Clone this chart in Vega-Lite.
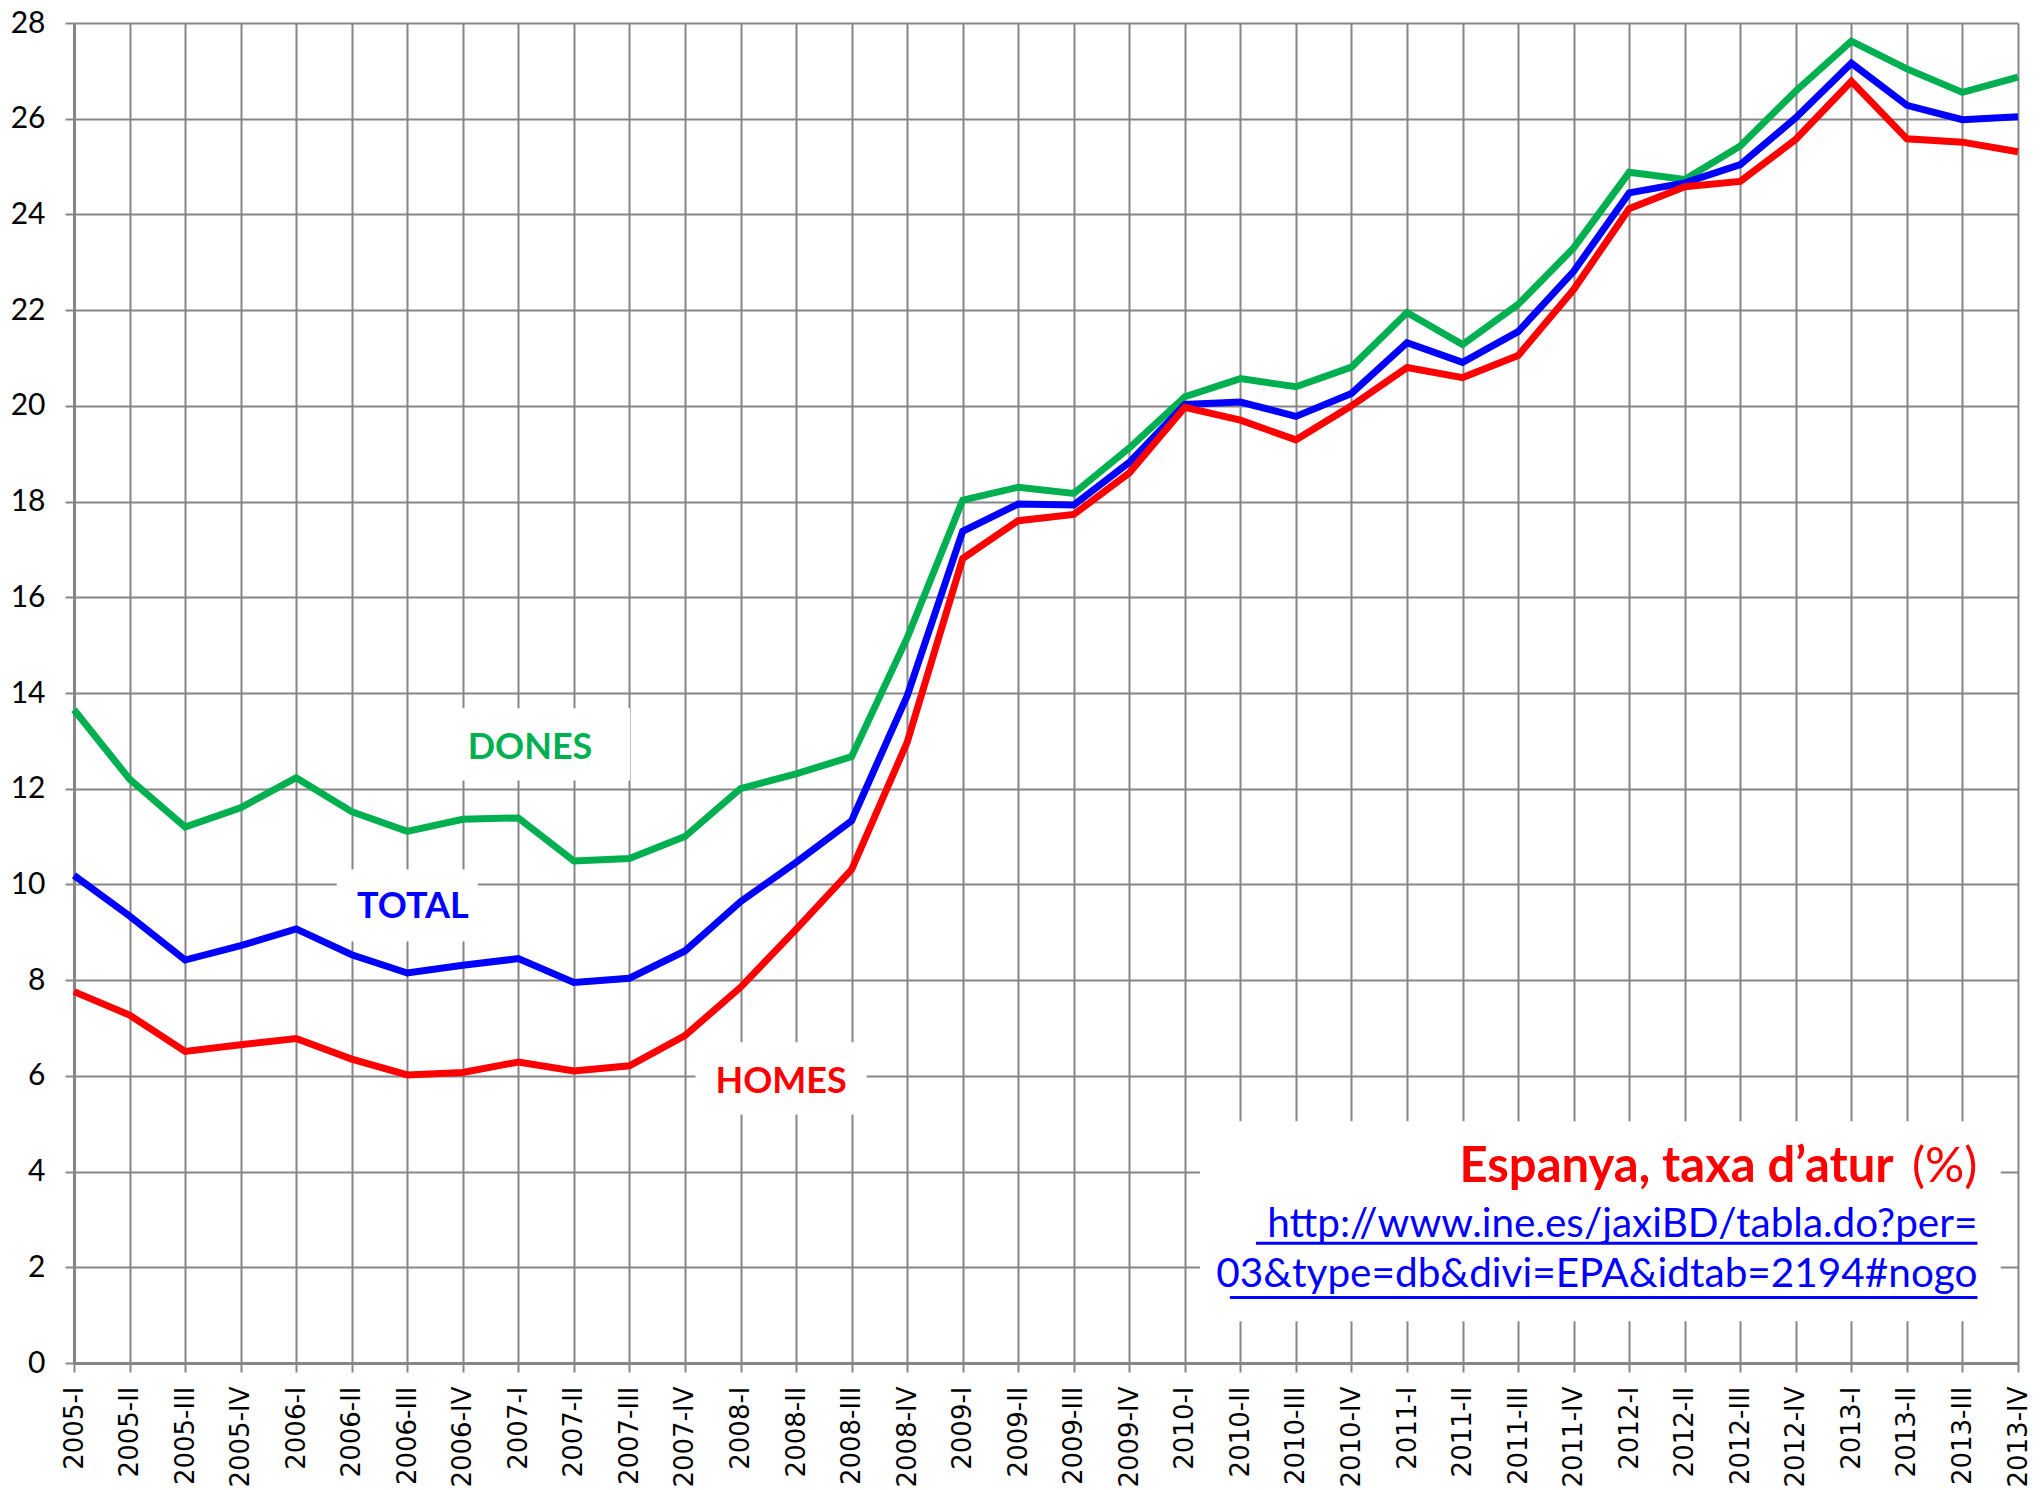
{
  "$schema": "https://vega.github.io/schema/vega-lite/v6.json",
  "width": 1944,
  "height": 1340,
  "autosize": {"type": "none"},
  "padding": {"left": 74, "top": 23, "right": 26, "bottom": 127},
  "background": "white",
  "config": {"view": {"stroke": null}},
  "datasets": {
    "series": [
      {"q":"2005-I","i":0,"s":"DONES","v":13.65},{"q":"2005-II","i":1,"s":"DONES","v":12.2},{"q":"2005-III","i":2,"s":"DONES","v":11.2},{"q":"2005-IV","i":3,"s":"DONES","v":11.6},
      {"q":"2006-I","i":4,"s":"DONES","v":12.23},{"q":"2006-II","i":5,"s":"DONES","v":11.52},{"q":"2006-III","i":6,"s":"DONES","v":11.11},{"q":"2006-IV","i":7,"s":"DONES","v":11.36},
      {"q":"2007-I","i":8,"s":"DONES","v":11.39},{"q":"2007-II","i":9,"s":"DONES","v":10.49},{"q":"2007-III","i":10,"s":"DONES","v":10.54},{"q":"2007-IV","i":11,"s":"DONES","v":11.0},
      {"q":"2008-I","i":12,"s":"DONES","v":12.0},{"q":"2008-II","i":13,"s":"DONES","v":12.31},{"q":"2008-III","i":14,"s":"DONES","v":12.67},{"q":"2008-IV","i":15,"s":"DONES","v":15.15},
      {"q":"2009-I","i":16,"s":"DONES","v":18.03},{"q":"2009-II","i":17,"s":"DONES","v":18.3},{"q":"2009-III","i":18,"s":"DONES","v":18.17},{"q":"2009-IV","i":19,"s":"DONES","v":19.12},
      {"q":"2010-I","i":20,"s":"DONES","v":20.19},{"q":"2010-II","i":21,"s":"DONES","v":20.57},{"q":"2010-III","i":22,"s":"DONES","v":20.4},{"q":"2010-IV","i":23,"s":"DONES","v":20.81},
      {"q":"2011-I","i":24,"s":"DONES","v":21.95},{"q":"2011-II","i":25,"s":"DONES","v":21.28},{"q":"2011-III","i":26,"s":"DONES","v":22.12},{"q":"2011-IV","i":27,"s":"DONES","v":23.3},
      {"q":"2012-I","i":28,"s":"DONES","v":24.88},{"q":"2012-II","i":29,"s":"DONES","v":24.73},{"q":"2012-III","i":30,"s":"DONES","v":25.43},{"q":"2012-IV","i":31,"s":"DONES","v":26.58},
      {"q":"2013-I","i":32,"s":"DONES","v":27.62},{"q":"2013-II","i":33,"s":"DONES","v":27.04},{"q":"2013-III","i":34,"s":"DONES","v":26.55},{"q":"2013-IV","i":35,"s":"DONES","v":26.87},

      {"q":"2005-I","i":0,"s":"TOTAL","v":10.19},{"q":"2005-II","i":1,"s":"TOTAL","v":9.34},{"q":"2005-III","i":2,"s":"TOTAL","v":8.42},{"q":"2005-IV","i":3,"s":"TOTAL","v":8.72},
      {"q":"2006-I","i":4,"s":"TOTAL","v":9.07},{"q":"2006-II","i":5,"s":"TOTAL","v":8.53},{"q":"2006-III","i":6,"s":"TOTAL","v":8.15},{"q":"2006-IV","i":7,"s":"TOTAL","v":8.31},
      {"q":"2007-I","i":8,"s":"TOTAL","v":8.45},{"q":"2007-II","i":9,"s":"TOTAL","v":7.95},{"q":"2007-III","i":10,"s":"TOTAL","v":8.04},{"q":"2007-IV","i":11,"s":"TOTAL","v":8.61},
      {"q":"2008-I","i":12,"s":"TOTAL","v":9.64},{"q":"2008-II","i":13,"s":"TOTAL","v":10.46},{"q":"2008-III","i":14,"s":"TOTAL","v":11.33},{"q":"2008-IV","i":15,"s":"TOTAL","v":13.94},
      {"q":"2009-I","i":16,"s":"TOTAL","v":17.38},{"q":"2009-II","i":17,"s":"TOTAL","v":17.95},{"q":"2009-III","i":18,"s":"TOTAL","v":17.93},{"q":"2009-IV","i":19,"s":"TOTAL","v":18.82},
      {"q":"2010-I","i":20,"s":"TOTAL","v":20.03},{"q":"2010-II","i":21,"s":"TOTAL","v":20.08},{"q":"2010-III","i":22,"s":"TOTAL","v":19.78},{"q":"2010-IV","i":23,"s":"TOTAL","v":20.26},
      {"q":"2011-I","i":24,"s":"TOTAL","v":21.32},{"q":"2011-II","i":25,"s":"TOTAL","v":20.91},{"q":"2011-III","i":26,"s":"TOTAL","v":21.55},{"q":"2011-IV","i":27,"s":"TOTAL","v":22.81},
      {"q":"2012-I","i":28,"s":"TOTAL","v":24.45},{"q":"2012-II","i":29,"s":"TOTAL","v":24.66},{"q":"2012-III","i":30,"s":"TOTAL","v":25.04},{"q":"2012-IV","i":31,"s":"TOTAL","v":26.02},
      {"q":"2013-I","i":32,"s":"TOTAL","v":27.16},{"q":"2013-II","i":33,"s":"TOTAL","v":26.28},{"q":"2013-III","i":34,"s":"TOTAL","v":25.98},{"q":"2013-IV","i":35,"s":"TOTAL","v":26.04},

      {"q":"2005-I","i":0,"s":"HOMES","v":7.76},{"q":"2005-II","i":1,"s":"HOMES","v":7.27},{"q":"2005-III","i":2,"s":"HOMES","v":6.51},{"q":"2005-IV","i":3,"s":"HOMES","v":6.65},
      {"q":"2006-I","i":4,"s":"HOMES","v":6.78},{"q":"2006-II","i":5,"s":"HOMES","v":6.35},{"q":"2006-III","i":6,"s":"HOMES","v":6.02},{"q":"2006-IV","i":7,"s":"HOMES","v":6.07},
      {"q":"2007-I","i":8,"s":"HOMES","v":6.29},{"q":"2007-II","i":9,"s":"HOMES","v":6.1},{"q":"2007-III","i":10,"s":"HOMES","v":6.21},{"q":"2007-IV","i":11,"s":"HOMES","v":6.84},
      {"q":"2008-I","i":12,"s":"HOMES","v":7.85},{"q":"2008-II","i":13,"s":"HOMES","v":9.06},{"q":"2008-III","i":14,"s":"HOMES","v":10.31},{"q":"2008-IV","i":15,"s":"HOMES","v":12.97},
      {"q":"2009-I","i":16,"s":"HOMES","v":16.81},{"q":"2009-II","i":17,"s":"HOMES","v":17.6},{"q":"2009-III","i":18,"s":"HOMES","v":17.73},{"q":"2009-IV","i":19,"s":"HOMES","v":18.6},
      {"q":"2010-I","i":20,"s":"HOMES","v":19.97},{"q":"2010-II","i":21,"s":"HOMES","v":19.7},{"q":"2010-III","i":22,"s":"HOMES","v":19.29},{"q":"2010-IV","i":23,"s":"HOMES","v":20.0},
      {"q":"2011-I","i":24,"s":"HOMES","v":20.8},{"q":"2011-II","i":25,"s":"HOMES","v":20.59},{"q":"2011-III","i":26,"s":"HOMES","v":21.05},{"q":"2011-IV","i":27,"s":"HOMES","v":22.43},
      {"q":"2012-I","i":28,"s":"HOMES","v":24.12},{"q":"2012-II","i":29,"s":"HOMES","v":24.58},{"q":"2012-III","i":30,"s":"HOMES","v":24.69},{"q":"2012-IV","i":31,"s":"HOMES","v":25.57},
      {"q":"2013-I","i":32,"s":"HOMES","v":26.78},{"q":"2013-II","i":33,"s":"HOMES","v":25.58},{"q":"2013-III","i":34,"s":"HOMES","v":25.51},{"q":"2013-IV","i":35,"s":"HOMES","v":25.31}
    ],
    "boxes": [
      {"i":6.6,"i2":10.01,"v":13.68,"v2":12.17},
      {"i":4.73,"i2":7.27,"v":10.31,"v2":8.81},
      {"i":11.19,"i2":14.27,"v":6.7,"v2":5.19},
      {"i":20.27,"i2":34.69,"v":5.05,"v2":0.87}
    ],
    "labels": [
      {"i":8.21,"v":12.63,"s":"DONES","t":"DONES"},
      {"i":6.1,"v":9.29,"s":"TOTAL","t":"TOTAL"},
      {"i":12.73,"v":5.65,"s":"HOMES","t":"HOMES"}
    ],
    "titleBold": [{"i":32.76,"v":3.79,"t":"Espanya, taxa d’atur"}],
    "titleUnit": [{"i":34.27,"v":3.79,"t":"(%)"}],
    "url": [
      {"i":34.27,"v":2.64,"t":"http://www.ine.es/jaxiBD/tabla.do?per="},
      {"i":34.27,"v":1.58,"t":"03&type=db&divi=EPA&idtab=2194#nogo"}
    ],
    "underline": [
      {"i":21.28,"i2":34.27,"v":2.5},
      {"i":20.81,"i2":34.27,"v":1.37}
    ]
  },
  "encoding": {
    "x": {
      "field": "i", "type": "quantitative",
      "scale": {"domain": [0, 35], "nice": false, "zero": false},
      "axis": {
        "title": null,
        "values": [0,1,2,3,4,5,6,7,8,9,10,11,12,13,14,15,16,17,18,19,20,21,22,23,24,25,26,27,28,29,30,31,32,33,34,35],
        "labelExpr": "(2005+floor(datum.value/4)) + '-' + ['I','II','III','IV'][datum.value%4]",
        "labelAngle": 270, "labelAlign": "right", "labelBaseline": "middle",
        "labelFont": "DejaVu Sans", "labelFontSize": 26, "labelColor": "#000000",
        "labelPadding": 14, "labelOverlap": false, "labelFlush": false, "labelBound": false,
        "tickSize": 9, "tickColor": "#868686", "tickWidth": 2,
        "domainColor": "#868686", "domainWidth": 3,
        "grid": true, "gridColor": "#868686", "gridWidth": 2, "gridOpacity": 1
      }
    },
    "y": {
      "field": "v", "type": "quantitative",
      "scale": {"domain": [0, 28], "nice": false, "zero": true},
      "axis": {
        "title": null,
        "values": [0,2,4,6,8,10,12,14,16,18,20,22,24,26,28],
        "labelFont": "Lato", "labelFontSize": 30, "labelColor": "#000000",
        "labelPadding": 20, "labelFlush": false, "labelBound": false,
        "tickSize": 9, "tickColor": "#868686", "tickWidth": 2,
        "domainColor": "#868686", "domainWidth": 3,
        "grid": true, "gridColor": "#868686", "gridWidth": 2, "gridOpacity": 1
      }
    }
  },
  "layer": [
    {
      "data": {"name": "boxes"},
      "mark": {"type": "rect", "fill": "#ffffff", "stroke": null},
      "encoding": {"x2": {"field": "i2"}, "y2": {"field": "v2"}}
    },
    {
      "data": {"name": "series"},
      "mark": {"type": "line", "strokeWidth": 7},
      "encoding": {
        "color": {"field": "s", "type": "nominal", "scale": {"domain": ["DONES","TOTAL","HOMES"], "range": ["#00B050","#0000FF","#FF0000"]}, "legend": null},
        "order": {"field": "i", "type": "quantitative"}
      }
    },
    {
      "data": {"name": "labels"},
      "mark": {"type": "text", "font": "Lato", "fontWeight": "bold", "fontSize": 36, "align": "center", "baseline": "alphabetic"},
      "encoding": {
        "text": {"field": "t"},
        "color": {"field": "s", "type": "nominal", "scale": {"domain": ["DONES","TOTAL","HOMES"], "range": ["#00B050","#0000FF","#FF0000"]}, "legend": null}
      }
    },
    {
      "data": {"name": "titleBold"},
      "mark": {"type": "text", "font": "Lato", "fontWeight": "bold", "fontSize": 49, "align": "right", "baseline": "alphabetic", "color": "#FF0000"},
      "encoding": {"text": {"field": "t"}}
    },
    {
      "data": {"name": "titleUnit"},
      "mark": {"type": "text", "font": "Lato", "fontSize": 49, "align": "right", "baseline": "alphabetic", "color": "#FF0000"},
      "encoding": {"text": {"field": "t"}}
    },
    {
      "data": {"name": "url"},
      "mark": {"type": "text", "font": "Lato", "fontSize": 40.5, "align": "right", "baseline": "alphabetic", "color": "#0000FF"},
      "encoding": {"text": {"field": "t"}}
    },
    {
      "data": {"name": "underline"},
      "mark": {"type": "rule", "color": "#0000FF", "strokeWidth": 3},
      "encoding": {"x2": {"field": "i2"}}
    }
  ]
}
